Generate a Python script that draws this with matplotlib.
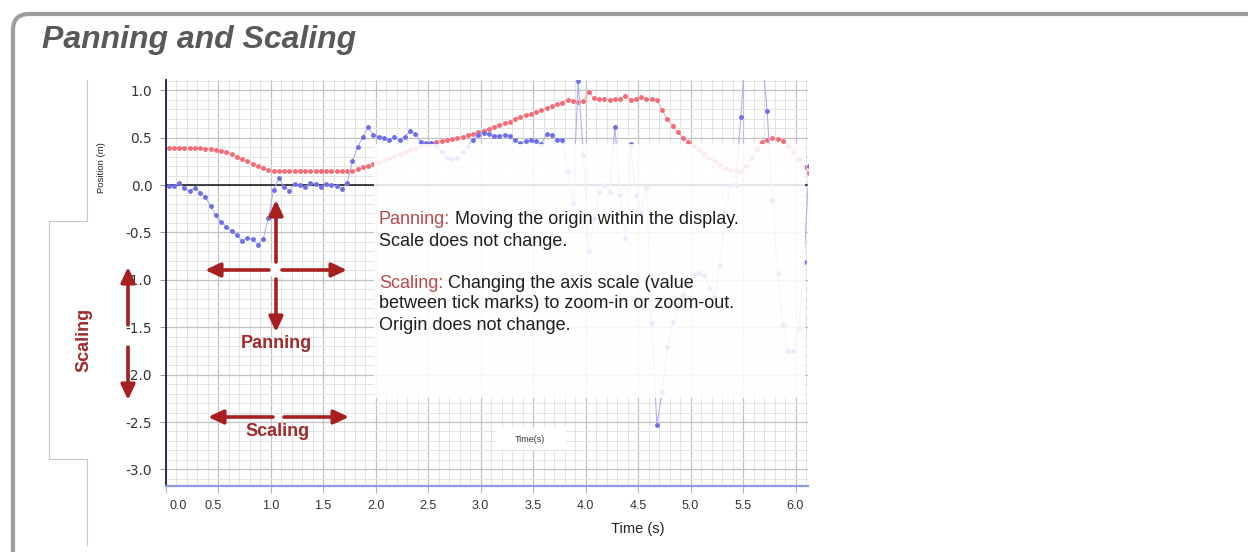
import numpy as np
import matplotlib
matplotlib.use("Agg")
import matplotlib.pyplot as plt
from matplotlib.patches import Rectangle, FancyBboxPatch, FancyArrowPatch
from matplotlib.ticker import MultipleLocator
from matplotlib.transforms import ScaledTranslation

# ---------------------------------------------------------------- data
# sampling instants (s), one sample every 0.05 s
time_s = np.round(0.03 + 0.05 * np.arange(123), 3)

# red trace: position (m)
red_pos = [
    0.39, 0.39, 0.39, 0.39, 0.39, 0.39, 0.388, 0.385, 0.38, 0.372,
    0.36, 0.345, 0.325, 0.30, 0.275, 0.25, 0.225, 0.20, 0.178, 0.16,
    0.152, 0.15, 0.15, 0.15, 0.15, 0.15, 0.15, 0.15, 0.15, 0.15,
    0.15, 0.148, 0.15, 0.145, 0.15, 0.15, 0.165, 0.185, 0.205, 0.22,
    0.24, 0.26, 0.28, 0.305, 0.33, 0.35, 0.37, 0.39, 0.41, 0.43,
    0.445, 0.455, 0.465, 0.475, 0.49, 0.50, 0.51, 0.525, 0.54, 0.555,
    0.575, 0.595, 0.61, 0.63, 0.65, 0.67, 0.70, 0.72, 0.735, 0.75,
    0.77, 0.79, 0.81, 0.83, 0.85, 0.87, 0.90, 0.89, 0.88, 0.89,
    0.98, 0.92, 0.905, 0.905, 0.90, 0.905, 0.905, 0.94, 0.90, 0.905,
    0.93, 0.905, 0.905, 0.90, 0.79, 0.70, 0.62, 0.555, 0.50, 0.455,
    0.41, 0.365, 0.325, 0.29, 0.25, 0.21, 0.175, 0.155, 0.145, 0.145,
    0.20, 0.29, 0.38, 0.45, 0.48, 0.50, 0.49, 0.46, 0.41, 0.35,
    0.27, 0.19, 0.13,
]

# blue trace: position (m)
blue_pos = [
    -0.01, -0.01, 0.02, -0.035, -0.06, -0.03, -0.08, -0.13, -0.22, -0.32,
    -0.39, -0.44, -0.49, -0.53, -0.59, -0.56, -0.57, -0.63, -0.57, -0.345,
    -0.05, 0.07, -0.02, -0.06, 0.01, 0.0, -0.025, 0.02, 0.01, -0.02,
    0.015, 0.0, -0.01, -0.04, 0.02, 0.25, 0.40, 0.51, 0.61, 0.53,
    0.51, 0.50, 0.48, 0.51, 0.475, 0.51, 0.57, 0.54, 0.45, 0.44,
    0.44, 0.42, 0.35, 0.28, 0.27, 0.28, 0.35, 0.41, 0.475, 0.53,
    0.55, 0.54, 0.52, 0.52, 0.53, 0.52, 0.475, 0.44, 0.46, 0.47,
    0.46, 0.43, 0.54, 0.53, 0.48, 0.475, 0.15, -0.19, 1.10, 0.32,
    -0.70, -0.35, -0.07, 0.0, -0.07, 0.615, -0.105, -0.56, 0.43, -0.10,
    -0.28, -0.035, -1.46, -2.53, -2.18, -1.71, -1.45, -1.30, -1.16, -1.05,
    -0.95, -0.93, -0.95, -1.09, -1.18, -0.84, -0.28, 0.0, 0.0, 0.72,
    1.6, 2.1, 1.9, 1.4, 0.78, -0.16, -0.93, -1.48, -1.75, -1.75,
    -1.51, -0.81, 0.2,
]

x_ticks = [0.0, 0.5, 1.0, 1.5, 2.0, 2.5, 3.0, 3.5, 4.0, 4.5, 5.0, 5.5, 6.0]
x_tick_labels = ["0.0", "0.5", "1.0", "1.5", "2.0", "2.5", "3.0",
                 "3.5", "4.0", "4.5", "5.0", "5.5", "6.0"]
y_ticks = [1.0, 0.5, 0.0, -0.5, -1.0, -1.5, -2.0, -2.5, -3.0]
y_tick_labels = ["1.0", "0.5", "0.0", "-0.5", "-1.0", "-1.5",
                 "-2.0", "-2.5", "-3.0"]

title = "Panning and Scaling"
note_lines = [
    ("Panning:", " Moving the origin within the display."),
    (None, "Scale does not change."),
    ("Scaling:", " Changing the axis scale (value"),
    (None, "between tick marks) to zoom-in or zoom-out."),
    (None, "Origin does not change."),
]

# ---------------------------------------------------------------- figure
W, H = 1248, 552
fig = plt.figure(figsize=(W / 100, H / 100), dpi=100)
fig.patch.set_facecolor("white")

SANS = ["Liberation Sans", "DejaVu Sans"]
ARROW_RED = "#a81f1f"
LABEL_RED = "#9f2a2a"
NOTE_RED = "#b84a4b"


def pixel_layer(name, z):
    a = fig.add_axes([0, 0, 1, 1], label=name)
    a.set_xlim(0, W)
    a.set_ylim(H, 0)
    a.axis("off")
    a.patch.set_alpha(0)
    a.set_zorder(z)
    return a


# slide frame, title and bracket line behind the chart
bg = pixel_layer("background", 0)
bg.add_patch(FancyBboxPatch((13, 14), 1400, 700,
                            boxstyle="round,pad=0,rounding_size=16",
                            fill=False, ec="#9d9d9d", lw=3.0))
bg.text(42, 48, title, fontsize=23, fontweight="bold", fontstyle="italic",
        color="#595959", family=SANS, va="baseline", ha="left")
bg.plot([87, 87, 49, 49, 87, 87], [80, 221, 221, 459, 459, 545],
        color="#c8c8c8", lw=0.8)

# ---------------------------------------------------------------- chart
left, right, top, bottom = 165.5, 808.0, 80.0, 486.0
ax = fig.add_axes([left / W, (H - bottom) / H, (right - left) / W,
                   (bottom - top) / H], label="chart")
ax.set_zorder(1)
ax.set_facecolor("white")
ax.set_xlim(0, 6.119)
ax.set_ylim(-3.175, 1.108)

ax.set_xticks(x_ticks)
ax.set_xticklabels(x_tick_labels)
ax.set_yticks(y_ticks)
ax.set_yticklabels(y_tick_labels)
ax.xaxis.set_minor_locator(MultipleLocator(0.1))
ax.yaxis.set_minor_locator(MultipleLocator(0.1))
ax.set_axisbelow(True)
ax.grid(which="minor", color="#e4e4e4", lw=0.7)
ax.grid(which="major", color="#c2c2c2", lw=0.9)

ax.axhline(0, color="#111111", lw=1.1, zorder=2.5)

ax.plot(time_s, red_pos, "-", color="#f8b0b6", lw=0.8, zorder=3)
ax.plot(time_s, red_pos, "o", color="#f26b76", ms=3.5, mew=0, zorder=3.2)
ax.plot(time_s, blue_pos, "-", color="#b0b0f5", lw=0.8, zorder=3.4)
ax.plot(time_s, blue_pos, "o", color="#6e6ee9", ms=3.5, mew=0, zorder=3.6)

for side in ("top", "right"):
    ax.spines[side].set_visible(False)
ax.spines["left"].set_color("#2a2a58")
ax.spines["left"].set_linewidth(1.4)
ax.spines["bottom"].set_color("#8e9be3")
ax.spines["bottom"].set_linewidth(1.6)

ax.tick_params(axis="y", which="major", length=4, width=0.8, color="#9a9a9a",
               pad=5.5, labelsize=9.8, labelcolor="#333333")
ax.tick_params(axis="x", which="major", length=5, width=0.8, color="#b5b5b5",
               pad=5, labelsize=9, labelcolor="#333333")
ax.tick_params(which="minor", length=0)
for lab in ax.get_xticklabels():
    lab.set_fontfamily(SANS)

# first two time labels sit slightly off their ticks
xt = ax.xaxis.get_major_ticks()
xt[0].label1.set_transform(xt[0].label1.get_transform()
                           + ScaledTranslation(0.13, 0, fig.dpi_scale_trans))
xt[1].label1.set_transform(xt[1].label1.get_transform()
                           + ScaledTranslation(-0.05, 0, fig.dpi_scale_trans))

# ---------------------------------------------------------------- overlay
fg = pixel_layer("foreground", 2)

# translucent note panel over the right part of the chart
fg.add_patch(Rectangle((374, 144), 431, 254, fc="white", ec="none",
                       alpha=0.87))
# small caption patch
fg.add_patch(Rectangle((496, 428), 70, 22, fc="white", ec="none"))
fg.text(530, 440, "Time(s)", fontsize=6.5, family=SANS, color="#333333",
        ha="center", va="center")

baselines = [224.5, 246.0, 287.5, 308.5, 329.5]
for yb, (head, rest) in zip(baselines, note_lines):
    if head is None:
        fg.text(379, yb, rest, fontsize=13, family=SANS, color="#1e1e1e",
                va="baseline", ha="left")
    else:
        t1 = fg.text(379, yb, head, fontsize=13, family=SANS, color=NOTE_RED,
                     va="baseline", ha="left")
        fg.annotate(rest, xy=(1, 0), xycoords=t1, fontsize=13, family=SANS,
                    color="#1e1e1e", va="bottom", ha="left")

# axis captions
fg.text(638, 529, "Time (s)", fontsize=10.5, family=SANS, color="#222222",
        ha="center", va="center")
fg.text(101, 168, "Position (m)", fontsize=6.8, family=SANS, color="#222222",
        rotation=90, ha="center", va="center")


def arrow(p0, p1):
    fg.add_patch(FancyArrowPatch(p0, p1,
                                 arrowstyle="-|>,head_length=0.45,head_width=0.21",
                                 mutation_scale=20, lw=2.6, color=ARROW_RED,
                                 shrinkA=0, shrinkB=0, zorder=5))


# panning cross
fg.add_patch(Rectangle((270, 263), 12, 13, fc="white", ec="none", zorder=4))
arrow((269, 270), (205, 270))
arrow((282, 270), (347, 270))
arrow((276, 262), (276, 200))
arrow((276, 279), (276, 332))
fg.text(276, 343, "Panning", fontsize=13, fontweight="bold", family=SANS,
        color=LABEL_RED, ha="center", va="center")

# scaling arrows
arrow((128, 325), (128, 267))
arrow((128, 347), (128, 400))
arrow((273, 417), (208, 417))
arrow((284, 417), (349, 417))
fg.text(278, 432, "Scaling", fontsize=13, fontweight="bold", family=SANS,
        color=LABEL_RED, ha="center", va="center")
fg.text(84, 340, "Scaling", fontsize=13, fontweight="bold", family=SANS,
        color=LABEL_RED, ha="center", va="center", rotation=90)

fig.savefig("out.png", dpi=100, facecolor="white")
